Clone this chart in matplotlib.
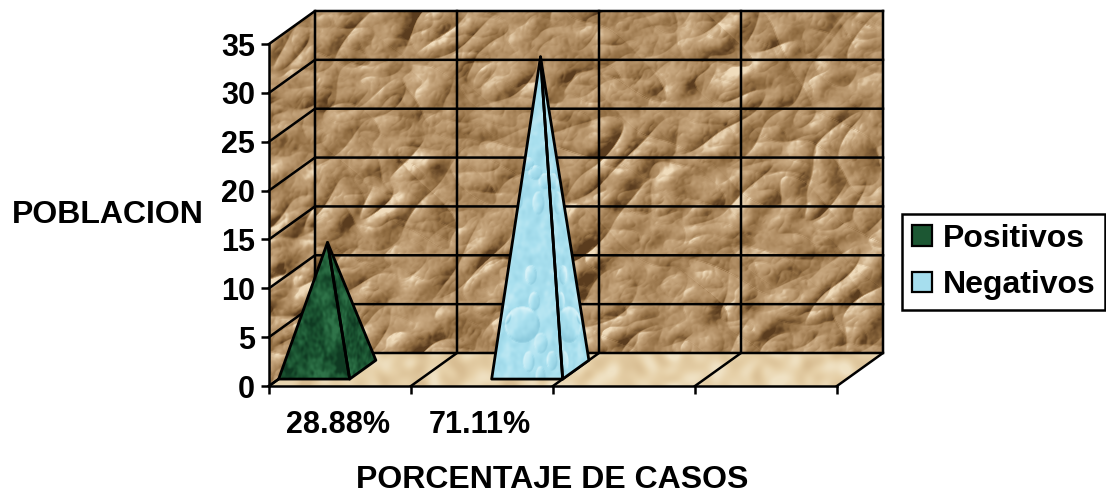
import numpy as np
import matplotlib
matplotlib.use("Agg")
import matplotlib.pyplot as plt
from matplotlib.colors import LinearSegmentedColormap
from matplotlib.patches import Patch, Polygon

plt.rcParams['font.family'] = ['Liberation Sans', 'DejaVu Sans']
plt.rcParams['font.weight'] = 'bold'

series_names = ["Positivos", "Negativos"]
category_index = [0, 1]
series_values = [13, 32]
category_labels = ["28.88%", "71.11%"]
y_ticks = [0, 5, 10, 15, 20, 25, 30, 35]
x_ticks = [0, 1, 2, 3, 4]

# how far the back wall sits from the front plane, in data units
DEPTH_X = 46 / 142
DEPTH_Y = 33 / 9.77
BAR_W = 0.5
FRONT, BACK = 0.21, 0.78
LW = 1.8

paper_cmap = LinearSegmentedColormap.from_list(
    "paper", ["#5a3c1e", "#8f6b40", "#b08d63", "#c8a880", "#f0dcbc"])
floor_cmap = LinearSegmentedColormap.from_list(
    "floor", ["#d8bd92", "#e6d0a8", "#f0e2c4"])
green_cmap = LinearSegmentedColormap.from_list(
    "green", ["#0f3a22", "#1c5733", "#2f7449"])
water_cmap = LinearSegmentedColormap.from_list(
    "water", ["#8ccadd", "#a9e0ef", "#d8f3f9"])


def smooth_noise(rng, h, w, size, stretch=1.0, angle=0.0):
    # gaussian low pass of white noise, done in the frequency domain
    n = rng.standard_normal((h, w))
    fy = np.fft.fftfreq(h)[:, None]
    fx = np.fft.rfftfreq(w)[None, :]
    u = fx * np.cos(angle) + fy * np.sin(angle)
    v = -fx * np.sin(angle) + fy * np.cos(angle)
    g = np.exp(-2 * (np.pi * size) ** 2 * ((u * stretch) ** 2 + v ** 2))
    out = np.fft.irfft2(np.fft.rfft2(n) * g, s=(h, w))
    return out / out.std()


def crumple(h, w, seed):
    # ridged noise lit from one side gives flat facets with sharp folds
    rng = np.random.default_rng(seed)
    height = np.zeros((h, w))
    for size, amp, stretch, angle in [(10, 22, 2.2, 0.6), (9, 16, 2.2, -0.7),
                                      (5, 6, 1.6, 0.2), (2.5, 1.2, 1.0, 0.0)]:
        height += amp * np.abs(smooth_noise(rng, h, w, size, stretch, angle))
    gy, gx = np.gradient(height)
    shade = gx * 0.8 + gy * 0.6
    shade = shade / shade.std()
    return shade + 0.12 * smooth_noise(rng, h, w, 1.2)


def marble(h, w, seed):
    rng = np.random.default_rng(seed)
    return smooth_noise(rng, h, w, 6) + 0.8 * smooth_noise(rng, h, w, 1.5)


def droplets(h, w, seed):
    rng = np.random.default_rng(seed)
    yy, xx = np.mgrid[0:h, 0:w]
    height = 1.5 * smooth_noise(rng, h, w, 5)
    spots = [(0.83, 0.42, 0.24, 0.053, 22)]
    for _ in range(14):
        spots.append((rng.uniform(0.25, 1), rng.uniform(0.1, 0.9),
                      rng.uniform(0.06, 0.12), rng.uniform(0.02, 0.035), 7))
    for cy, cx, rx, ry, amp in spots:
        r = ((xx / w - cx) / rx) ** 2 + ((yy / h - cy) / ry) ** 2
        height += amp * np.sqrt(np.clip(1 - r, 0, 1))
    gy, gx = np.gradient(height)
    return np.tanh((gx + gy) * 0.5) + 0.12 * smooth_noise(rng, h, w, 2)


def textured(ax, pts, img, cmap, vmin, vmax, zorder):
    pts = np.array(pts)
    clip = Polygon(pts, closed=True, transform=ax.transData)
    extent = (pts[:, 0].min(), pts[:, 0].max(), pts[:, 1].min(), pts[:, 1].max())
    im = ax.imshow(img, extent=extent, cmap=cmap, vmin=vmin, vmax=vmax,
                   aspect='auto', interpolation='bilinear', zorder=zorder)
    # the walls stick out past the axes box, so only the polygon should clip
    im.set_clip_box(ax.figure.bbox)
    im.set_clip_path(clip)


def pyramid(ax, cat, series, value, img, cmap, vmin, vmax):
    x0 = cat + series * BAR_W
    x1 = x0 + BAR_W
    fl = (x0 + FRONT * DEPTH_X, FRONT * DEPTH_Y)
    fr = (x1 + FRONT * DEPTH_X, FRONT * DEPTH_Y)
    br = (x1 + BACK * DEPTH_X, BACK * DEPTH_Y)
    top = (x0 + BAR_W / 2 + 0.5 * DEPTH_X, value + 0.5 * DEPTH_Y)
    textured(ax, [fl, fr, top], img, cmap, vmin, vmax, 3)
    textured(ax, [fr, br, top], img[:, ::-1], cmap, vmin, vmax, 3)
    for face in ([fl, fr, top], [fr, br, top]):
        ax.add_patch(Polygon(face, closed=True, fill=False, edgecolor='black',
                             linewidth=2.0, joinstyle='round', zorder=3.5,
                             clip_on=False))


fig = plt.figure(figsize=(11.06, 4.95), dpi=100, facecolor='white')
ax = fig.add_axes([269 / 1106, (495 - 386) / 495, 568 / 1106, 342 / 495])
ax.patch.set_visible(False)

top = y_ticks[-1]
right = x_ticks[-1]

# walls and floor
wall = [(DEPTH_X, DEPTH_Y), (right + DEPTH_X, DEPTH_Y),
        (right + DEPTH_X, top + DEPTH_Y), (DEPTH_X, top + DEPTH_Y)]
textured(ax, wall, crumple(342, 568, 11), paper_cmap, -2.6, 2.6, 1)
side = [(0, 0), (DEPTH_X, DEPTH_Y), (DEPTH_X, top + DEPTH_Y), (0, top)]
textured(ax, side, crumple(375, 46, 5), paper_cmap, -2.4, 2.4, 1)
floor = [(0, 0), (right, 0), (right + DEPTH_X, DEPTH_Y), (DEPTH_X, DEPTH_Y)]
floor_img = smooth_noise(np.random.default_rng(3), 33, 614, 5)
textured(ax, floor, floor_img, floor_cmap, -2.2, 2.2, 1)

# gridlines
for y in y_ticks:
    ax.plot([0, DEPTH_X, right + DEPTH_X], [y, y + DEPTH_Y, y + DEPTH_Y],
            color='black', lw=LW, zorder=2, clip_on=False)
for x in x_ticks:
    ax.plot([x, x + DEPTH_X, x + DEPTH_X], [0, DEPTH_Y, top + DEPTH_Y],
            color='black', lw=LW, zorder=2, clip_on=False)

# one pyramid per series, each in its own category
textures = [
    (marble(120, 90, 21), green_cmap, -2.2, 2.2),
    (droplets(320, 90, 33), water_cmap, -1.1, 1.1),
]
for i, value in enumerate(series_values):
    img, cmap, vmin, vmax = textures[i]
    pyramid(ax, category_index[i], i, value, img, cmap, vmin, vmax)

ax.set_xlim(x_ticks[0], right)
ax.set_ylim(y_ticks[0], top)
for name in ('top', 'right'):
    ax.spines[name].set_visible(False)
for name in ('left', 'bottom'):
    ax.spines[name].set_linewidth(LW)
    ax.spines[name].set_zorder(2.5)

ax.set_yticks(y_ticks)
ax.set_xticks(x_ticks)
ax.set_xticklabels([])
ax.set_xticks([c + 0.485 for c in category_index], minor=True)
ax.set_xticklabels(category_labels, minor=True)
ax.tick_params(axis='both', which='major', length=6, width=LW, labelsize=22, pad=4)
ax.tick_params(axis='x', which='minor', length=0, labelsize=22, pad=17)

ax.set_ylabel("POBLACION", rotation=0, fontsize=23, fontweight='bold',
              ha='center', va='center')
ax.yaxis.set_label_coords((108 - 269) / 568, (386 - 215) / 342)
ax.set_xlabel("PORCENTAJE DE CASOS", fontsize=23, fontweight='bold',
              ha='center', va='center')
ax.xaxis.set_label_coords((552 - 269) / 568, (386 - 480) / 342)

handles = [Patch(facecolor="#1c5733", edgecolor='black', linewidth=1.6),
           Patch(facecolor="#a6deee", edgecolor='black', linewidth=1.6)]
leg = fig.legend(handles, series_names, loc='upper right',
                 bbox_to_anchor=(1105 / 1106, (495 - 214) / 495),
                 bbox_transform=fig.transFigure, fontsize=23, fancybox=False,
                 framealpha=1, edgecolor='black', handlelength=0.62,
                 handleheight=0.62, handletextpad=0.34, labelspacing=0.52,
                 borderpad=0.3, borderaxespad=0)
leg.get_frame().set_linewidth(LW)

fig.savefig("out.png", dpi=100)
